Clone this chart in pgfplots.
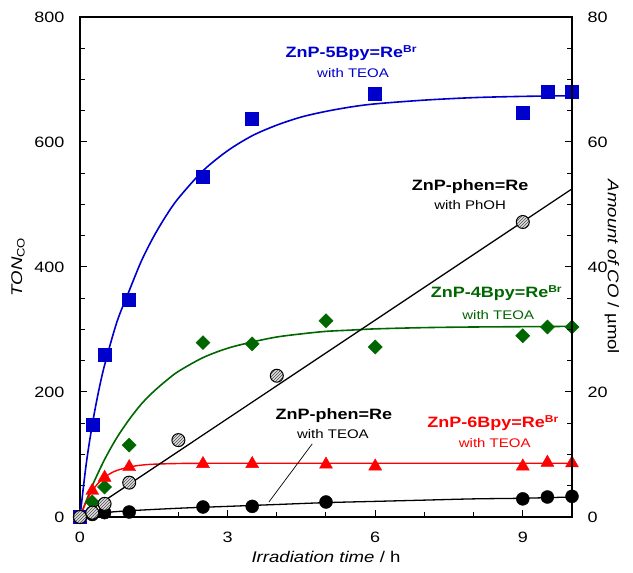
\documentclass[border=0pt]{standalone}
\usepackage{fontspec}
\setmainfont{Liberation Sans}[FakeStretch=1.2]
\usepackage{pgfplots}
\pgfplotsset{compat=1.18}
\usetikzlibrary{patterns}

\definecolor{cblue}{HTML}{0000CC}
\definecolor{cgreen}{HTML}{006600}
\definecolor{cred}{HTML}{FF0000}

% grey circle with diagonal hatching
\pgfdeclareplotmark{hatchcircle}{%
  \pgfpathcircle{\pgfpointorigin}{\pgfplotmarksize}%
  \pgfsetfillcolor{gray!25}\pgfusepathqfill
  \pgfpathcircle{\pgfpointorigin}{\pgfplotmarksize}%
  \pgfsetfillpattern{north east lines}{gray!60!black}%
  \pgfusepathqfillstroke}

\newcommand{\lbl}{\fontsize{15}{18}\selectfont\bfseries}
\newcommand{\sub}{\fontsize{12.5}{15}\selectfont}
\newcommand{\rebr}{Re\raisebox{5pt}{\fontsize{10}{12}\selectfont Br}}

\begin{document}
\begin{tikzpicture}
\path[use as bounding box] (-80pt,-56pt) rectangle (553pt,517pt);
\begin{axis}[
  at={(0,0)}, anchor=south west,
  scale only axis, width=492pt, height=500pt,
  xmin=0, xmax=10, ymin=0, ymax=800,
  xtick={0,3,6,9}, minor x tick num=2,
  ytick={0,200,...,800}, minor y tick num=3,
  xtick pos=bottom, ytick pos=left,
  tick align=inside,
  major tick length=7pt, minor tick length=5pt,
  every tick/.style={black, line width=1pt},
  axis line style={line width=1.3pt},
  clip=false,
  /pgf/number format/assume math mode=true,
  tick label style={font=\fontsize{15}{18}\selectfont},
  yticklabel style={xshift=-12pt},
  xticklabel style={yshift=-11pt},
  xlabel={\textit{Irradiation time} / h},
  every axis x label/.style={at={(axis description cs:0.5,0)}, anchor=center, yshift=-40pt, font=\fontsize{15.5}{18}\selectfont},
  ylabel={\textit{TON}\textsubscript{CO}},
  every axis y label/.style={at={(axis description cs:-0.126,0.5)}, anchor=center, rotate=90, font=\fontsize{15.5}{18}\selectfont},
]
% fitted curves (read along the drawn lines)
\addplot[cblue, line width=1.6pt, smooth] coordinates {
  (0,0)(0.125,84)(0.25,148)(0.375,200)(0.5,243)(0.75,312)(1,362)(1.25,410)
  (1.5,449)(1.75,482)(2,510)(2.5,554)(3,586)(3.5,610)(4,627)(4.5,640)
  (5,649)(5.5,656)(6,661)(7,667)(8,671)(9,673)(10,674)};
\addplot[cgreen, line width=1.6pt, smooth] coordinates {
  (0,0)(0.25,50)(0.5,92)(0.75,127)(1,156)(1.25,181)(1.5,201)(1.75,218)
  (2,233)(2.5,255)(3,270)(3.5,280)(4,288)(4.5,293)(5,297)(5.5,299)
  (6,301)(7,303)(8,304)(9,304.5)(10,305)};
\addplot[cred, line width=1.4pt, smooth] coordinates {
  (0,0)(0.125,24.5)(0.25,42)(0.375,54.5)(0.5,63.5)(0.625,70)(0.75,74.5)
  (1,80)(1.25,83)(1.5,84.5)(2,85.6)(2.5,85.9)(3,86)(5,86)(7,86)(10,86)};
\addplot[black, line width=1.3pt, smooth] coordinates {
  (0,0)(0.25,4)(0.5,7)(1,10)(2,14)(3,17)(4,20)(5,23)(6,25)(7,27)(8,29)(9,30)(10,32)};
\addplot[black, line width=1.3pt] coordinates {(0,0)(10,525)};

% measured points
\addplot[only marks, mark=square*, mark size=6.5pt, mark options={cblue, fill=cblue}] coordinates {
  (0,0)(0.25,147)(0.5,260)(1,348)(2.5,545)(3.5,638)(6,678)(9,647)(9.5,681)(10,681)};
\addplot[only marks, mark=square*, mark size=5pt, mark options={cgreen, fill=cgreen, rotate=45}] coordinates {
  (0,0)(0.25,24)(0.5,48)(1,115)(2.5,279)(3.5,277)(5,314)(6,272)(9,290)(9.5,304)(10,304)};
\addplot[only marks, mark=triangle*, mark size=7.5pt, mark options={cred, fill=cred}] coordinates {
  (0,0)(0.25,42)(0.5,63)(1,80)(2.5,85)(3.5,85)(5,84)(6,81)(9,81)(9.5,87)(10,86)};
\addplot[only marks, mark=*, mark size=6.5pt, mark options={black, fill=black}] coordinates {
  (0,0)(0.25,4)(0.5,7)(1,8)(2.5,16)(3.5,17)(5,24)(9,29)(9.5,32)(10,33)};
\addplot[only marks, mark=hatchcircle, mark size=6.5pt, mark options={draw=black, line width=1pt}] coordinates {
  (0,0)(0.25,7)(0.5,21)(1,55)(2,123)(4,226)(9,472)};

% labels
\node[text=cblue] at (axis cs:5.51,742) {\lbl ZnP-5Bpy=\rebr};
\node[text=cblue] at (axis cs:5.55,710) {\sub with TEOA};
\node[text=black] at (axis cs:7.93,528) {\lbl ZnP-phen=Re};
\node[text=black] at (axis cs:7.93,499) {\sub with PhOH};
\node[text=cgreen] at (axis cs:8.46,358) {\lbl ZnP-4Bpy=\rebr};
\node[text=cgreen] at (axis cs:8.50,323) {\sub with TEOA};
\node[text=black] at (axis cs:5.16,163) {\lbl ZnP-phen=Re};
\node[text=black] at (axis cs:5.14,133) {\sub with TEOA};
\node[text=cred] at (axis cs:8.39,150) {\lbl ZnP-6Bpy=\rebr};
\node[text=cred] at (axis cs:8.43,118) {\sub with TEOA};
\draw[black, line width=0.7pt] (axis cs:4.72,117) -- (axis cs:3.84,24);
\end{axis}

\begin{axis}[
  at={(0,0)}, anchor=south west,
  scale only axis, width=492pt, height=500pt,
  xmin=0, xmax=10, ymin=0, ymax=80,
  axis x line=none, axis y line*=right,
  ytick={0,20,...,80}, minor y tick num=3,
  tick align=inside,
  major tick length=7pt, minor tick length=5pt,
  every tick/.style={black, line width=1pt},
  axis line style={line width=1.3pt},
  /pgf/number format/assume math mode=true,
  tick label style={font=\fontsize{15}{18}\selectfont},
  yticklabel style={xshift=12pt},
  every axis y label/.style={at={(axis description cs:1.0813,0.5)}, anchor=center, rotate=-90, font=\fontsize{15.5}{18}\selectfont},
  ylabel={\textit{Amount of CO} / µmol},
]
\end{axis}
\end{tikzpicture}
\end{document}
